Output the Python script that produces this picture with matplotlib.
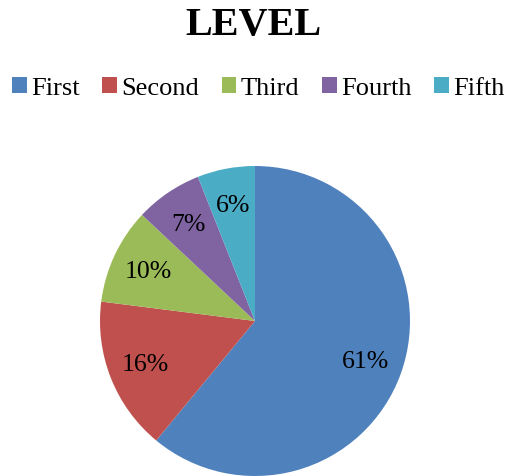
import matplotlib
matplotlib.use("Agg")
import matplotlib.pyplot as plt
from matplotlib.patches import Patch

categories = ["First", "Second", "Third", "Fourth", "Fifth"]
values = [61, 16, 10, 7, 6]
labels = ["61%", "16%", "10%", "7%", "6%"]
colors = ["#4F81BD", "#C0504D", "#9BBB59", "#8064A2", "#4BACC6"]

plt.rcParams['font.family'] = ['Liberation Serif', 'DejaVu Serif']

fig = plt.figure(figsize=(5.07, 4.77), dpi=100)
ax = fig.add_axes([100/507, 0, 310/507, 310/477])
ax.pie(values, colors=colors, startangle=90, counterclock=False,
       labels=labels, labeldistance=0.76,
       textprops=dict(fontsize=18.5, color='black'),
       wedgeprops=dict(linewidth=0))
for t in ax.texts:
    t.set_ha('center'); t.set_va('center')
ax.set_xlim(-1, 1); ax.set_ylim(-1, 1)
ax.set_aspect('equal')

fig.text(0.5, 1 - 26/477, "LEVEL", ha='center', va='center', fontsize=29, fontweight='bold')

handles = [Patch(facecolor=c, edgecolor='none') for c in colors]
fig.legend(handles, categories, loc='center left', bbox_to_anchor=(12/507, 1 - 89/477),
           ncol=5, frameon=False, fontsize=19.0, handlelength=0.55, handleheight=0.55,
           handletextpad=0.18, columnspacing=0.85, borderaxespad=0, borderpad=0)

fig.savefig("out.png", dpi=100)
